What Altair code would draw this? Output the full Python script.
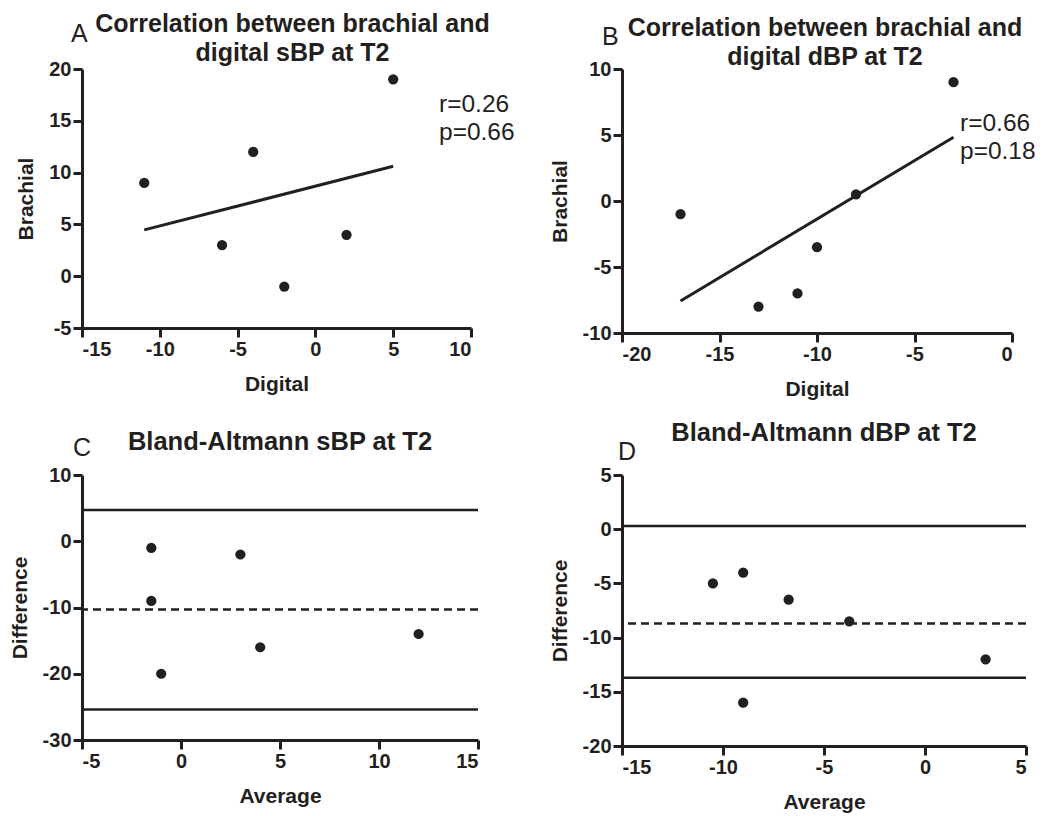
import altair as alt
import pandas as pd

FONT = "Liberation Sans"
INK = "#231f20"

# ---- Panel A: correlation sBP ----
a_digital = [-11, -6, -4, -2, 2, 5]
a_brachial = [9, 3, 12, -1, 4, 19]
a_stats = "r=0.26\np=0.66"

# ---- Panel B: correlation dBP ----
b_digital = [-17, -13, -11, -10, -8, -3]
b_brachial = [-1, -8, -7, -3.5, 0.5, 9]
b_stats = "r=0.66\np=0.18"

# ---- Panel C: Bland-Altman sBP ----
c_average = [-1.5, -1.5, -1, 3, 4, 12]
c_difference = [-1, -9, -20, -2, -16, -14]
c_bias = -10.3
c_limits = [4.7, -25.4]

# ---- Panel D: Bland-Altman dBP ----
d_average = [-10.5, -9, -9, -6.75, -3.75, 3]
d_difference = [-5, -4, -16, -6.5, -8.5, -12]
d_bias = -8.7
d_limits = [0.3, -13.7]


def axis(values, title):
    return alt.Axis(values=values, title=title, labelExpr="datum.value + ''")


def scale(dom):
    return alt.Scale(domain=dom, nice=False, zero=False)


def title(lines, size, dx, dy, offset):
    return alt.TitleParams(text=lines, fontSize=size, fontWeight="bold", font=FONT,
                           color=INK, anchor="middle", frame="group", dx=dx, dy=dy,
                           offset=offset, lineHeight=29)


def letter(ch, x, y):
    return alt.Chart(pd.DataFrame({"t": [ch]})).mark_text(
        font=FONT, fontSize=25, color=INK, align="left", baseline="alphabetic"
    ).encode(text="t:N", x=alt.value(x), y=alt.value(y))


def stats(txt, x, y):
    return alt.Chart(pd.DataFrame({"t": [txt]})).mark_text(
        font=FONT, fontSize=24.5, color=INK, align="left", baseline="alphabetic",
        lineBreak="\n", lineHeight=28
    ).encode(text="t:N", x=alt.value(x), y=alt.value(y))


def corr_panel(xs, ys, xdom, ydom, xt, yt, w, h, tlines, tdx, toff, let, lxy, st, sxy):
    df = pd.DataFrame({"Digital": xs, "Brachial": ys})
    base = alt.Chart(df)
    x = alt.X("Digital:Q", scale=scale(xdom), axis=axis(xt, "Digital"))
    y = alt.Y("Brachial:Q", scale=scale(ydom), axis=axis(yt, "Brachial"))
    pts = base.mark_circle(size=105, color=INK, opacity=1).encode(x=x, y=y)
    reg = base.transform_regression("Digital", "Brachial").mark_line(
        color=INK, strokeWidth=3).encode(x=x, y=y)
    return alt.layer(pts, reg, letter(let, *lxy), stats(st, *sxy)).properties(
        width=w, height=h, title=title(tlines, 25, tdx, 0, toff))


def ba_panel(xs, ys, bias, limits, xdom, ydom, xt, yt, w, h, tlines, tdy, toff, let, lxy):
    df = pd.DataFrame({"Average": xs, "Difference": ys})
    x = alt.X("Average:Q", scale=scale(xdom), axis=axis(xt, "Average"))
    y = alt.Y("Difference:Q", scale=scale(ydom), axis=axis(yt, "Difference"))
    pts = alt.Chart(df).mark_circle(size=105, color=INK, opacity=1).encode(x=x, y=y)
    lim = alt.Chart(pd.DataFrame({"v": limits})).mark_rule(
        color=INK, strokeWidth=2.5).encode(y=alt.Y("v:Q"))
    bia = alt.Chart(pd.DataFrame({"v": [bias]})).mark_rule(
        color=INK, strokeWidth=2.5, strokeDash=[8, 5]).encode(y=alt.Y("v:Q"))
    return alt.layer(pts, lim, bia, letter(let, *lxy)).properties(
        width=w, height=h, title=title(tlines, 25.5, 0, tdy, toff))


A = corr_panel(a_digital, a_brachial, [-15, 10], [-5, 20],
               [-15, -10, -5, 0, 5, 10], [-5, 0, 5, 10, 15, 20], 389, 259,
               ["Correlation between brachial and", "digital sBP at T2"], 16, -44,
               "A", (-11, -27), a_stats, (357, 43))
B = corr_panel(b_digital, b_brachial, [-20, 0], [-10, 10],
               [-20, -15, -10, -5, 0], [-10, -5, 0, 5, 10], 390, 264,
               ["Correlation between brachial and", "digital dBP at T2"], 8, -45,
               "B", (-20, -24), b_stats, (338, 62))
C = ba_panel(c_average, c_difference, c_bias, c_limits, [-5, 15], [-30, 10],
             [-5, 0, 5, 10, 15], [-30, -20, -10, 0, 10], 396, 265,
             ["Bland-Altmann sBP at T2"], 6, -13, "C", (-9, -19))
D = ba_panel(d_average, d_difference, d_bias, d_limits, [-15, 5], [-20, 5],
             [-15, -10, -5, 0, 5], [-20, -15, -10, -5, 0, 5], 404, 271,
             ["Bland-Altmann dBP at T2"], -3, -9, "D", (-4, -15))

chart = alt.concat(A, B, C, D, columns=2, bounds="flush",
                   spacing={"row": 142, "column": 144}).properties(
    padding={"left": 9, "top": 12, "right": 5, "bottom": 5},
    background="white"
).configure_axis(
    domainColor=INK, domainWidth=3, tickColor=INK, tickWidth=3, tickSize=9,
    labelFont=FONT, labelFontSize=20, labelFontWeight="bold", labelColor=INK,
    labelPadding=2, titleFont=FONT, titleFontSize=21, titleFontWeight="bold",
    titleColor=INK, titlePadding=12, grid=False
).configure_axisX(titlePadding=14).configure_view(stroke=None)

chart.save("out.html", embed_options={"renderer": "svg", "actions": False})
